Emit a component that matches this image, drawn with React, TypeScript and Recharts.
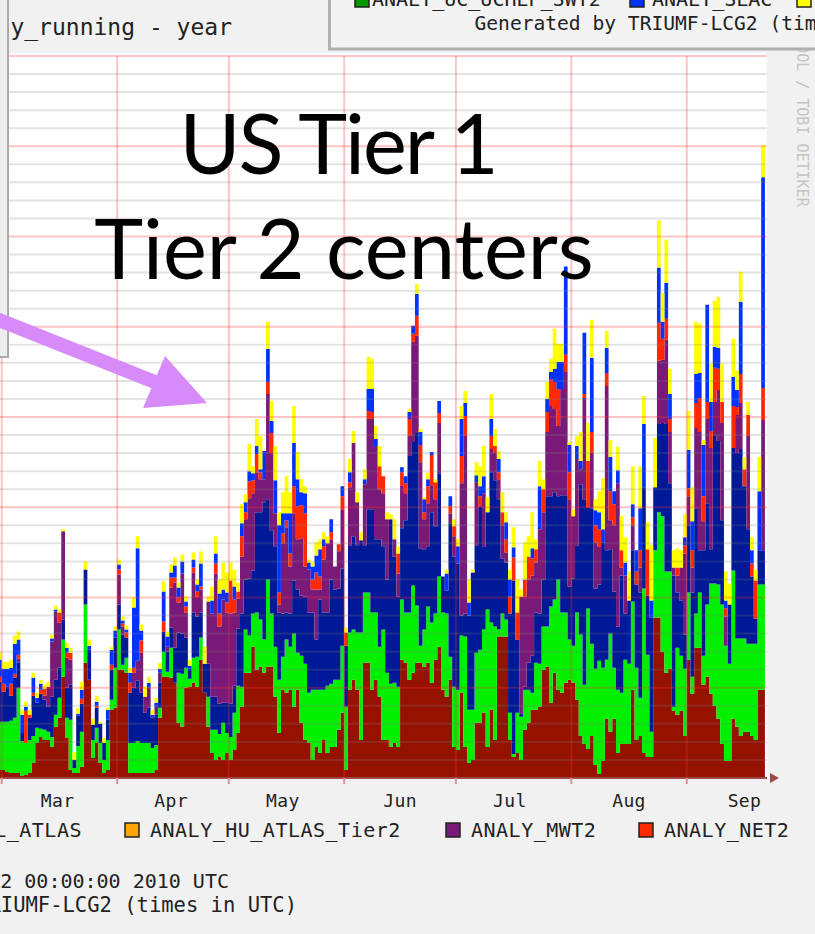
import React from 'react'
import { AreaChart, Area, XAxis, YAxis, ReferenceLine } from 'recharts'

// daily analysis jobs per site, day 0 = 1 Mar 2010 (first column is 28 Feb)
const FIRST_DAY = -1

const BOTTOM_SITE = [
  8,8,6,5,5,5,2,3,5,15,35,41,38,38,31,51,60,101,40,8,5,5,11,115,98,20,35,15,5,8,68,70,108,108,105,5,5,5,5,5,5,5,8,60,101,101,100,95,55,51,90,91,95,91,
  118,85,51,25,18,21,18,25,18,28,45,71,105,105,131,108,111,105,111,111,81,45,88,85,88,71,88,55,38,35,18,31,25,38,25,31,31,48,65,8,88,98,88,38,115,115,88,98,81,38,38,
  31,35,31,118,115,98,105,115,115,111,115,95,118,131,88,81,98,31,28,85,31,15,18,55,55,65,31,68,38,141,141,141,38,21,25,18,48,55,68,68,71,108,111,75,105,88,85,95,98,95,78,
  42,34,29,42,13,4,17,59,46,59,25,34,34,34,88,38,42,25,21,21,160,160,126,105,109,67,63,67,42,118,84,130,130,93,101,84,72,59,34,17,17,59,51,42,46,46,42,38,88,88,
]
const GREEN_SITE = [
  48,48,50,52,55,85,35,32,33,27,15,8,10,8,10,12,20,37,20,50,5,27,35,58,0,18,15,20,13,30,10,40,40,5,15,30,30,32,30,30,30,25,25,10,25,5,30,0,50,53,20,8,25,30,
  22,0,30,23,30,23,37,20,23,37,47,20,43,37,33,57,47,33,87,53,50,53,33,53,43,73,37,67,76,50,70,57,63,50,67,63,67,50,67,63,57,50,57,107,70,70,77,67,50,110,67,
  63,60,60,60,50,67,87,57,17,37,56,60,46,70,77,83,23,60,60,57,110,53,50,70,73,83,137,87,113,7,23,17,27,3,40,43,40,33,17,47,43,43,40,96,73,110,80,70,40,37,87,
  101,59,140,92,96,113,93,59,98,51,63,51,84,80,88,72,38,164,102,25,67,105,135,101,97,4,67,55,67,67,17,34,55,29,72,110,122,134,139,115,97,148,88,97,93,88,92,96,105,105,
]
const NAVY_SITE = [
  40,30,35,25,40,25,8,0,22,40,25,35,30,25,40,35,30,20,30,35,8,30,28,35,30,15,20,19,17,20,30,30,25,30,20,50,55,60,50,30,35,30,30,25,20,20,20,35,40,40,30,10,45,40,
  25,29,33,33,33,30,20,30,33,27,57,73,50,57,43,100,107,137,80,83,100,67,43,27,33,53,63,60,67,80,77,50,90,77,73,104,90,91,77,61,87,93,87,92,47,83,103,73,107,83,93,
  164,126,90,71,92,156,143,172,97,80,60,110,87,103,36,23,133,130,126,20,23,94,137,107,143,83,97,150,146,130,55,57,99,173,73,3,3,27,37,50,50,47,130,110,107,83,117,117,53,67,67,
  150,185,101,135,80,76,125,109,84,76,63,117,46,63,51,83,105,101,59,114,63,88,93,147,88,131,55,55,34,67,84,105,42,105,101,34,147,143,84,0,59,122,185,189,152,114,67,25,34,34,
]
const MWT2 = [
  0,0,0,0,0,4,0,0,0,0,0,0,4,20,55,68,45,88,30,25,0,0,0,0,0,0,0,0,0,0,0,0,30,8,0,0,15,20,40,16,20,0,8,10,0,5,40,65,30,60,25,0,40,20,
  23,0,62,83,123,77,103,90,90,73,30,57,60,80,77,40,33,23,105,77,33,8,70,85,47,67,50,57,30,43,23,50,10,53,69,40,23,37,59,0,58,93,43,0,61,90,90,93,50,53,60,
  0,17,23,43,27,20,100,97,86,30,43,27,27,50,0,0,10,20,0,132,177,0,0,63,0,53,0,23,27,20,33,10,0,0,0,117,90,83,80,50,84,67,64,90,83,70,106,123,87,62,86,
  15,101,0,55,46,38,0,164,29,66,143,8,38,0,25,0,25,0,0,0,0,63,63,84,51,8,17,33,81,29,25,80,118,29,84,101,34,51,97,29,0,0,38,46,0,93,0,0,0,130,
]
const NET2 = [
  5,8,0,12,4,4,0,32,3,3,0,4,7,0,0,0,10,0,5,7,0,0,5,0,0,0,2,0,0,0,5,0,5,3,5,10,5,0,12,0,0,0,0,0,10,0,10,5,5,0,6,0,5,5,
  3,0,0,0,10,13,0,10,33,13,7,20,7,17,13,18,7,0,12,20,0,12,10,7,13,27,33,33,53,0,10,17,13,13,0,7,0,7,13,13,5,0,0,0,0,8,7,0,23,17,0,
  0,0,20,13,10,17,8,20,17,7,17,30,17,10,0,0,7,10,0,27,20,0,0,0,10,0,0,13,7,7,13,13,17,23,27,0,17,23,17,13,0,23,20,27,27,37,0,17,27,0,0,
  0,4,46,21,17,17,0,13,29,21,0,17,0,0,8,13,17,0,46,0,0,38,21,21,13,0,8,0,8,8,17,25,34,25,17,17,34,21,21,8,0,42,8,29,17,21,13,38,0,32,
]
const SLAC = [
  17,15,18,16,30,15,18,4,0,15,5,6,0,0,3,2,0,0,5,0,0,2,9,0,4,0,4,0,0,10,15,7,5,3,3,10,60,112,10,0,5,3,4,4,30,10,5,12,10,12,5,3,8,7,
  23,0,0,13,10,20,10,10,0,13,0,13,10,10,7,8,3,28,33,12,33,67,20,7,40,43,27,13,20,7,13,17,27,7,0,13,0,0,10,0,10,0,0,0,5,22,23,7,0,0,0,
  0,0,0,5,7,7,8,22,13,13,7,3,0,12,0,17,10,0,17,37,13,13,0,7,10,17,0,17,0,13,0,17,17,10,0,0,0,0,10,0,43,0,13,7,13,27,27,88,27,0,13,
  8,61,0,74,15,17,13,25,34,13,13,0,13,0,13,21,42,63,0,17,0,55,17,36,25,0,0,0,8,38,29,29,25,51,97,29,21,21,0,8,0,29,17,72,0,0,13,0,59,210,
]
const YELLOW_SITE = [
  7,7,7,8,8,8,5,5,5,5,5,4,4,5,4,4,3,2,5,5,8,6,8,8,6,6,6,2,5,2,3,4,5,4,4,5,10,12,6,10,6,5,5,6,10,5,8,8,5,7,5,6,7,5,
  12,17,5,14,17,14,27,20,18,17,9,19,8,27,7,27,33,0,27,20,34,13,21,37,21,37,27,13,7,3,4,13,10,7,7,0,0,0,0,5,13,12,10,8,10,32,30,13,20,0,7,
  5,20,7,0,0,3,0,10,3,2,7,0,3,0,0,4,0,7,7,13,12,23,3,13,20,30,15,25,17,8,20,10,10,20,33,7,37,20,36,10,25,10,17,13,40,18,18,0,3,7,10,
  29,0,38,38,11,21,51,17,17,0,23,34,25,29,38,0,42,28,27,55,49,47,29,43,25,17,19,17,23,39,34,52,49,5,0,38,46,51,38,29,21,38,19,30,12,13,13,11,34,32,
]

const MONTHS = ['Mar', 'Apr', 'May', 'Jun', 'Jul', 'Aug', 'Sep']
const MONTH_STARTS = [0, 31, 61, 92, 122, 153, 184]
const MONTH_LABEL_AT = [15, 45.5, 75.5, 107, 136.5, 168.5, 199.5]

const Y_MAX = 720
const MINOR = 18
const MAJOR = 90

const SERIES = [
  { key: 'bottom', values: BOTTOM_SITE, color: '#961200' },
  { key: 'green', values: GREEN_SITE, color: '#00f000' },
  { key: 'navy', values: NAVY_SITE, color: '#001996' },
  { key: 'mwt2', values: MWT2, color: '#7a1a78' },
  { key: 'net2', values: NET2, color: '#ff2800' },
  { key: 'slac', values: SLAC, color: '#0032ff' },
  { key: 'yellow', values: YELLOW_SITE, color: '#ffff00' },
]

const data: any[] = BOTTOM_SITE.map((_, i) => {
  const row: any = { day: FIRST_DAY + i }
  SERIES.forEach(s => { row[s.key] = s.values[i] })
  return row
})
// closing edge so the last stepped column is drawn
data.push({ ...data[data.length - 1], day: FIRST_DAY + BOTTOM_SITE.length })

const gridYs = Array.from({ length: Y_MAX / MINOR }, (_, i) => (i + 1) * MINOR)

const W = 769
const H = 934
const X_DOMAIN: [number, number] = [-1, 205.56]
const CHART_LEFT = -1.72
const MONO = '"DejaVu Sans Mono", monospace'

function MonthTick(props: any) {
  const { x, y, payload } = props
  const i = MONTH_LABEL_AT.indexOf(payload.value)
  if (i < 0) {
    return <line x1={x} x2={x} y1={y - 8} y2={y - 2} stroke="#e09090" strokeWidth={2} />
  }
  return (
    <text x={x} y={y + 21} textAnchor="middle" fontFamily={MONO} fontSize={18}
      letterSpacing={0.35} fill="#222">{MONTHS[i]}</text>
  )
}

function LegendItem({ x, y, color, label }: { x: number; y: number; color: string; label: string }) {
  return (
    <g>
      <rect x={x} y={y - 14} width={14} height={14} fill={color} stroke="#222" strokeWidth={1.5} />
      <text x={x + 25} y={y} fontFamily={MONO} fontSize={20} letterSpacing={0.5} fill="#222">{label}</text>
    </g>
  )
}

export default function App() {
  return (
    <div style={{ position: 'absolute', left: 0, top: 0, width: 815, height: 934, overflow: 'hidden', background: '#f1f1f1' }}>
      <div style={{ position: 'absolute', left: 0, top: 53, width: 767, height: 725, background: '#fff' }} />

      {/* stacked daily jobs */}
      <div style={{ position: 'absolute', left: CHART_LEFT, top: 0 }}>
        <AreaChart width={W} height={H} data={data} margin={{ top: 56, right: 0, bottom: 156, left: 0 }}>
          <XAxis type="number" dataKey="day" domain={X_DOMAIN} allowDataOverflow hide />
          <YAxis type="number" domain={[0, Y_MAX]} allowDataOverflow hide />
          {SERIES.map(s => (
            <Area key={s.key} type="stepAfter" dataKey={s.key} stackId="jobs" fill={s.color}
              fillOpacity={1} stroke="none" dot={false} activeDot={false} isAnimationActive={false} />
          ))}
        </AreaChart>
      </div>

      {/* grid drawn over the data, like rrdtool does */}
      <div style={{ position: 'absolute', left: CHART_LEFT, top: 0, pointerEvents: 'none' }}>
        <AreaChart width={W} height={H} data={data} margin={{ top: 56, right: 0, bottom: 126, left: 0 }}>
          <XAxis type="number" dataKey="day" domain={X_DOMAIN} allowDataOverflow height={30}
            ticks={[...MONTH_STARTS, ...MONTH_LABEL_AT]} interval={0} tick={<MonthTick />}
            tickLine={false} tickSize={6} tickMargin={2}
            axisLine={{ stroke: '#a04848', strokeWidth: 2 }} />
          <YAxis type="number" domain={[0, Y_MAX]} allowDataOverflow hide />
          {gridYs.map(v => (
            <ReferenceLine key={'h' + v} y={v}
              stroke={v % MAJOR === 0 ? '#ff3030' : '#808080'}
              strokeOpacity={v % MAJOR === 0 ? 0.28 : 0.22} strokeWidth={2} />
          ))}
          {MONTH_STARTS.map(d => (
            <ReferenceLine key={'v' + d} x={d} stroke="#ff3030" strokeOpacity={0.28} strokeWidth={2} />
          ))}
        </AreaChart>
      </div>

      <svg width={815} height={934} style={{ position: 'absolute', left: 0, top: 0, pointerEvents: 'none' }}>
        <polygon points="770,773 770,783 779,778" fill="#a04848" />

        <text transform="translate(797,8) rotate(90)" fontFamily={MONO} fontSize={15} fill="#c4c4c4">
          RRDTOOL / TOBI OETIKER
        </text>

        {/* neighbouring graph, top right */}
        <rect x={328} y={-10} width={500} height={60} fill="#f3f3f3" />
        <line x1={329.5} y1={-10} x2={329.5} y2={50} stroke="#b0b0b0" strokeWidth={3} />
        <line x1={328} y1={49} x2={815} y2={49} stroke="#b0b0b0" strokeWidth={3} />
        <rect x={355} y={-8} width={14} height={15} fill="#009900" stroke="#222" strokeWidth={1.5} />
        <text x={372} y={6} fontFamily={MONO} fontSize={20} fill="#222">ANALY_UC_UCHEP_SWT2</text>
        <rect x={630} y={-8} width={14} height={15} fill="#0032ff" stroke="#222" strokeWidth={1.5} />
        <text x={652} y={6} fontFamily={MONO} fontSize={20} fill="#222">ANALY_SLAC</text>
        <rect x={797} y={-8} width={14} height={15} fill="#ffff00" stroke="#222" strokeWidth={1.5} />
        <text x={474.5} y={30} fontFamily={MONO} fontSize={19.6} fill="#222">Generated by TRIUMF-LCG2 (times in UTC)</text>

        <text x={232} y={35} textAnchor="end" fontFamily={MONO} fontSize={23} fill="#222">y_running - year</text>

        {/* neighbouring panel, left */}
        <rect x={-4} y={-4} width={12} height={361} fill="#ededed" />
        <line x1={8} y1={0} x2={8} y2={358} stroke="#aaaaaa" strokeWidth={2} />
        <line x1={0} y1={357} x2={9} y2={357} stroke="#aaaaaa" strokeWidth={2} />

        {/* legend */}
        <text x={82} y={837} textAnchor="end" fontFamily={MONO} fontSize={20} letterSpacing={0.5} fill="#222">ANALY_BNL_ATLAS</text>
        <LegendItem x={125} y={837} color="#ffa500" label="ANALY_HU_ATLAS_Tier2" />
        <LegendItem x={446} y={837} color="#7a1a78" label="ANALY_MWT2" />
        <LegendItem x={639} y={837} color="#ff2800" label="ANALY_NET2" />

        <text x={229} y={888} textAnchor="end" fontFamily={MONO} fontSize={20} fill="#222">Wed Sep 22 00:00:00 2010 UTC</text>
        <text x={297} y={912} textAnchor="end" fontFamily={MONO} fontSize={20.5} fill="#222">Generated by TRIUMF-LCG2 (times in UTC)</text>

        {/* slide annotation */}
        <text x={338} y={174} textAnchor="middle" fontFamily="Lato, sans-serif" fontSize={83} letterSpacing={-2} fill="#000">US Tier 1</text>
        <text x={344} y={279} textAnchor="middle" fontFamily="Lato, sans-serif" fontSize={83} fill="#000">Tier 2 centers</text>
        <line x1={-6} y1={318} x2={170} y2={388} stroke="#d68bf8" strokeWidth={14} />
        <polygon points="165,356 207,403 143,408" fill="#d68bf8" />
      </svg>
    </div>
  )
}
